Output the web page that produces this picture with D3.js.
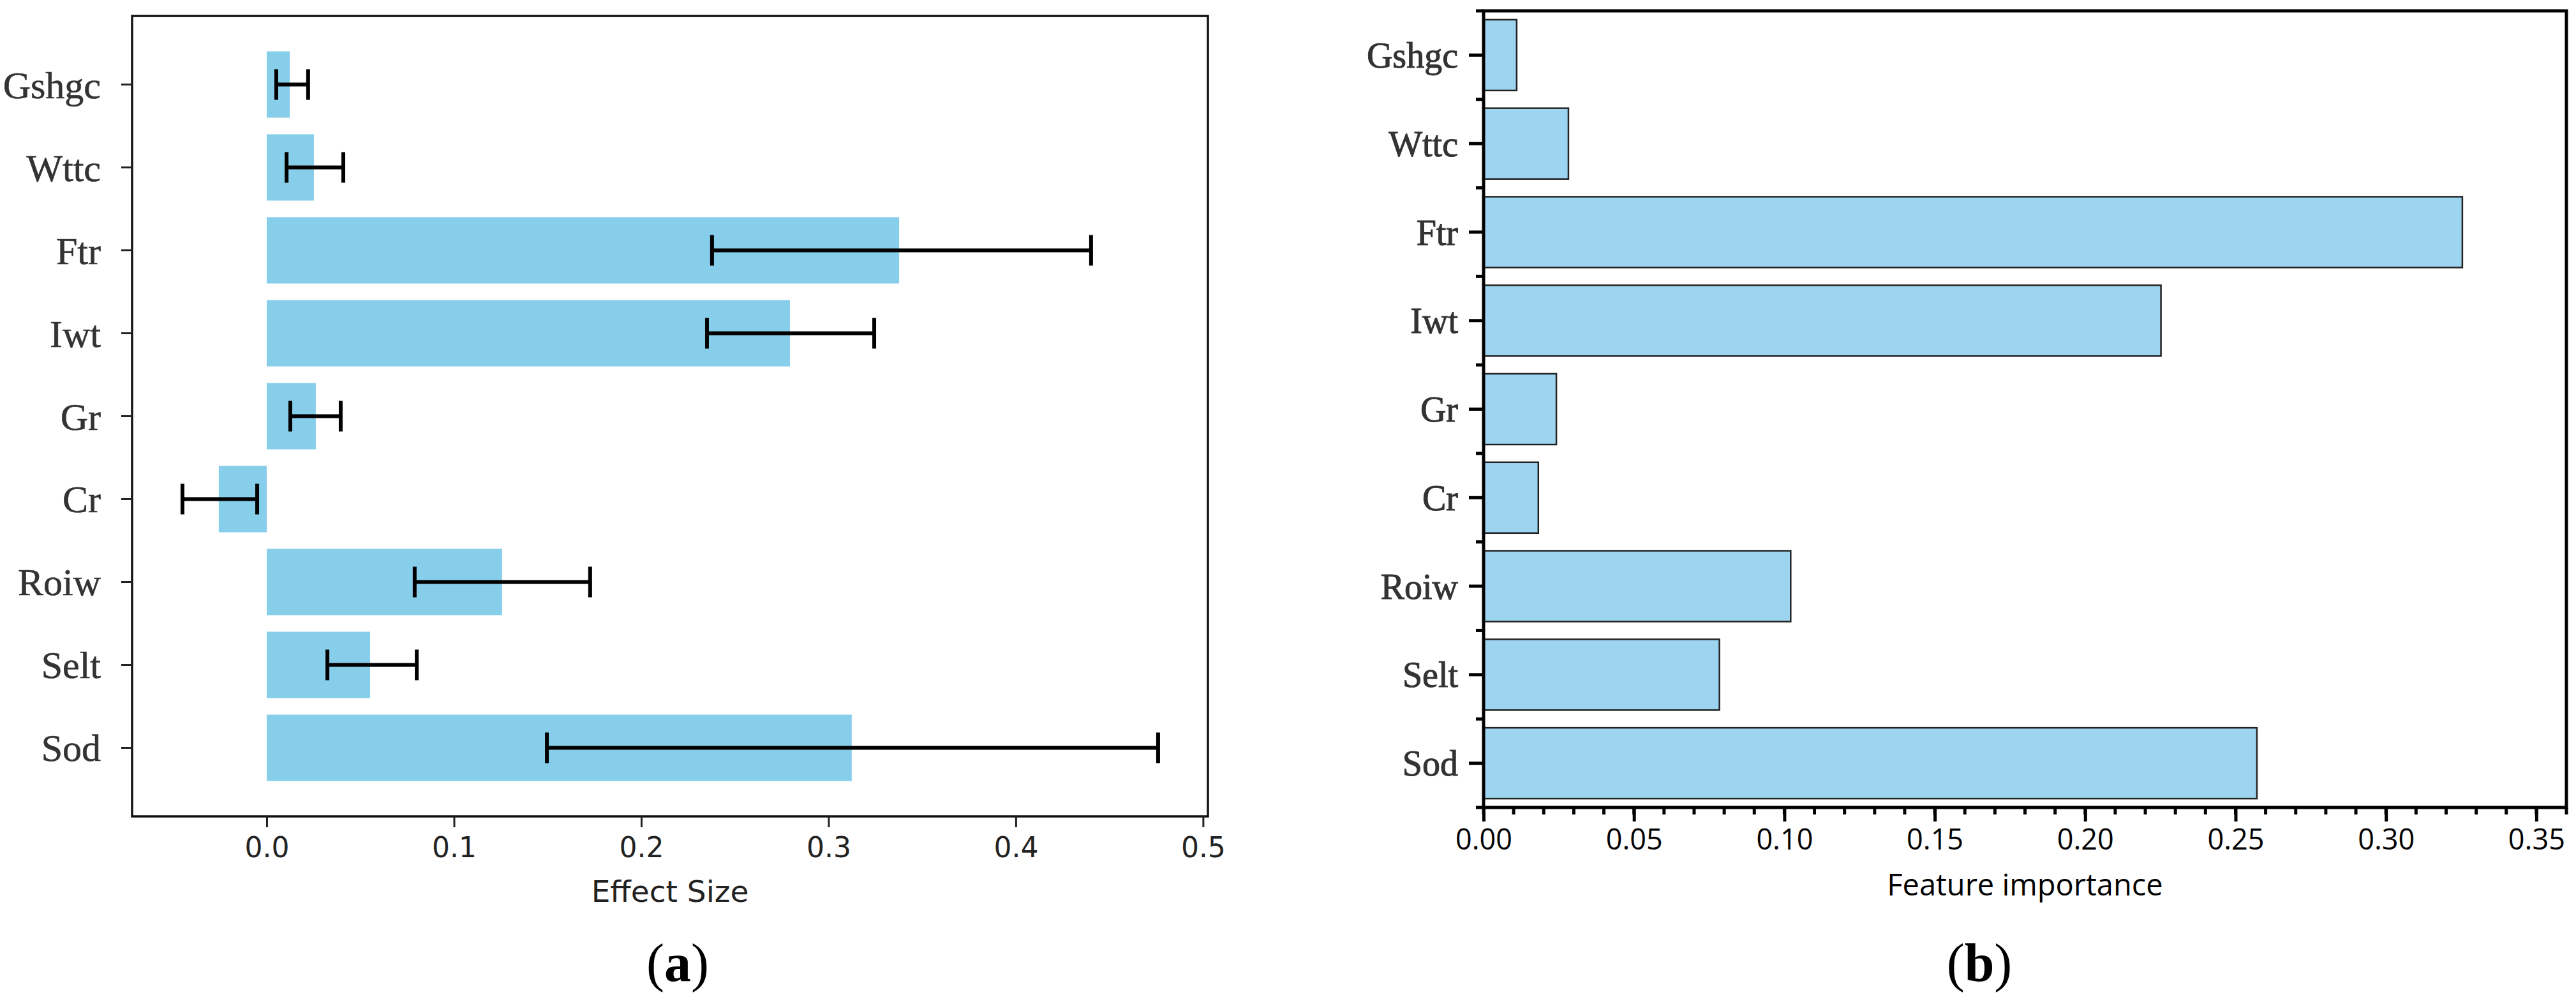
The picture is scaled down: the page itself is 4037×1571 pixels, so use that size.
<!DOCTYPE html>
<html>
<head>
<meta charset="utf-8">
<script src="https://cdn.jsdelivr.net/npm/d3@7"></script>
<style>
  body { margin: 0; background: #fff; }
</style>
</head>
<body>
<div id="chart"></div>
<script>
// values
var features = ['Gshgc', 'Wttc', 'Ftr', 'Iwt', 'Gr', 'Cr', 'Roiw', 'Selt', 'Sod'];
var effectSize = [0.0123, 0.0252, 0.3377, 0.2794, 0.0262, -0.0256, 0.1257, 0.0552, 0.3124];
var effectLow  = [0.0051, 0.0106, 0.2378, 0.2351, 0.0126, -0.0450, 0.0790, 0.0324, 0.1496];
var effectHigh = [0.0221, 0.0409, 0.4402, 0.3244, 0.0395, -0.0051, 0.1727, 0.0801, 0.4760];
var importance = [0.011, 0.0282, 0.3254, 0.2252, 0.0242, 0.0182, 0.1021, 0.0784, 0.2571];
var effectTicks = [0.0, 0.1, 0.2, 0.3, 0.4, 0.5];
var importanceTicks = [0.00, 0.05, 0.10, 0.15, 0.20, 0.25, 0.30, 0.35];

var W = 4037, H = 1571;
var svg = d3.select('#chart').append('svg')
  .attr('width', W).attr('height', H)
  .style('display', 'block');

// ---------- panel (a) ----------
var a = { left: 207, right: 1893, top: 25, bottom: 1280 };
var xa = d3.scaleLinear().domain([-0.0719, 0.5026]).range([a.left, a.right]);
var ya = d3.scaleBand().domain(features).range([a.top, a.bottom])
  .paddingInner(0.2).paddingOuter(0.427);

var ga = svg.append('g');

ga.selectAll('rect.bar')
  .data(features)
  .enter().append('rect')
  .attr('class', 'bar')
  .attr('x', function(d, i) { return Math.min(xa(0), xa(effectSize[i])); })
  .attr('width', function(d, i) { return Math.abs(xa(effectSize[i]) - xa(0)); })
  .attr('y', function(d) { return ya(d); })
  .attr('height', ya.bandwidth())
  .attr('fill', '#87ceeb');

var err = ga.selectAll('g.err')
  .data(features)
  .enter().append('g')
  .attr('class', 'err')
  .attr('stroke', '#000')
  .attr('stroke-width', 6);
err.append('line')
  .attr('x1', function(d, i) { return xa(effectLow[i]); })
  .attr('x2', function(d, i) { return xa(effectHigh[i]); })
  .attr('y1', function(d) { return ya(d) + ya.bandwidth() / 2; })
  .attr('y2', function(d) { return ya(d) + ya.bandwidth() / 2; });
err.append('line')
  .attr('x1', function(d, i) { return xa(effectLow[i]); })
  .attr('x2', function(d, i) { return xa(effectLow[i]); })
  .attr('y1', function(d) { return ya(d) + ya.bandwidth() / 2 - 24; })
  .attr('y2', function(d) { return ya(d) + ya.bandwidth() / 2 + 24; });
err.append('line')
  .attr('x1', function(d, i) { return xa(effectHigh[i]); })
  .attr('x2', function(d, i) { return xa(effectHigh[i]); })
  .attr('y1', function(d) { return ya(d) + ya.bandwidth() / 2 - 24; })
  .attr('y2', function(d) { return ya(d) + ya.bandwidth() / 2 + 24; });

ga.append('rect')
  .attr('x', a.left).attr('y', a.top)
  .attr('width', a.right - a.left).attr('height', a.bottom - a.top)
  .attr('fill', 'none').attr('stroke', '#111').attr('stroke-width', 3.5);

var axA = ga.append('g')
  .attr('transform', 'translate(0,' + a.bottom + ')')
  .call(d3.axisBottom(xa).tickValues(effectTicks).tickFormat(d3.format('.1f'))
    .tickSize(17).tickPadding(16));
axA.select('.domain').remove();
axA.selectAll('line').attr('stroke', '#222').attr('stroke-width', 3);
axA.selectAll('text')
  .attr('font-family', 'DejaVu Sans').attr('font-size', 44).attr('fill', '#222');

var ayA = ga.append('g')
  .attr('transform', 'translate(' + a.left + ',0)')
  .call(d3.axisLeft(ya).tickSize(17).tickPadding(32));
ayA.select('.domain').remove();
ayA.selectAll('line').attr('stroke', '#222').attr('stroke-width', 3);
ayA.selectAll('text')
  .attr('font-family', 'Liberation Serif').attr('font-size', 60).attr('fill', '#333')
  .attr('stroke', '#333').attr('stroke-width', 0.6)
  .attr('dy', '0.35em');

ga.append('text')
  .attr('x', (a.left + a.right) / 2).attr('y', 1414)
  .attr('text-anchor', 'middle')
  .attr('font-family', 'DejaVu Sans').attr('font-size', 47).attr('fill', '#222')
  .text('Effect Size');

ga.append('text')
  .attr('x', 1062).attr('y', 1538)
  .attr('text-anchor', 'middle')
  .attr('font-family', 'Liberation Serif').attr('font-size', 84).attr('fill', '#000')
  .html('(<tspan font-weight="bold">a</tspan>)');

// ---------- panel (b) ----------
var b = { left: 2325, right: 4022, top: 17, bottom: 1266 };
var xb = d3.scaleLinear().domain([0, 0.36]).range([b.left, b.right]);
var yb = d3.scaleBand().domain(features).range([b.top, b.bottom])
  .paddingInner(0.2).paddingOuter(0.1);

var gb = svg.append('g');

gb.selectAll('rect.bar')
  .data(features)
  .enter().append('rect')
  .attr('class', 'bar')
  .attr('x', xb(0))
  .attr('width', function(d, i) { return xb(importance[i]) - xb(0); })
  .attr('y', function(d) { return yb(d); })
  .attr('height', yb.bandwidth())
  .attr('fill', '#9dd4ef')
  .attr('stroke', '#222').attr('stroke-width', 2.5);

// minor y ticks on the category boundaries
var gapB = (yb.step() - yb.bandwidth()) / 2;
var bounds = features.map(function(d) { return yb(d) - gapB; });
bounds.push(yb(features[features.length - 1]) + yb.bandwidth() + gapB);
gb.selectAll('line.ymin')
  .data(bounds)
  .enter().append('line')
  .attr('class', 'ymin')
  .attr('x1', b.left - 12).attr('x2', b.left)
  .attr('y1', function(d) { return d; }).attr('y2', function(d) { return d; })
  .attr('stroke', '#000').attr('stroke-width', 5);

// minor x ticks every 0.01
var minorX = d3.range(0, 0.3601, 0.01);
gb.selectAll('line.xmin')
  .data(minorX)
  .enter().append('line')
  .attr('class', 'xmin')
  .attr('x1', function(d) { return xb(d); }).attr('x2', function(d) { return xb(d); })
  .attr('y1', b.bottom).attr('y2', b.bottom + 11)
  .attr('stroke', '#000').attr('stroke-width', 5);

var axB = gb.append('g')
  .attr('transform', 'translate(0,' + b.bottom + ')')
  .call(d3.axisBottom(xb).tickValues(importanceTicks).tickFormat(d3.format('.2f'))
    .tickSize(22).tickPadding(12));
axB.select('.domain').remove();
axB.selectAll('line').attr('stroke', '#000').attr('stroke-width', 5);
axB.selectAll('text')
  .attr('font-family', 'Open Sans').attr('font-size', 45).attr('fill', '#000');

var ayB = gb.append('g')
  .attr('transform', 'translate(' + b.left + ',0)')
  .call(d3.axisLeft(yb).tickSize(23).tickPadding(17));
ayB.select('.domain').remove();
ayB.selectAll('line').attr('stroke', '#000').attr('stroke-width', 5);
ayB.selectAll('text')
  .attr('font-family', 'Liberation Serif').attr('font-size', 56).attr('fill', '#333')
  .attr('stroke', '#333').attr('stroke-width', 1)
  .attr('dy', '0.35em');

gb.append('rect')
  .attr('x', b.left).attr('y', b.top)
  .attr('width', b.right - b.left).attr('height', b.bottom - b.top)
  .attr('fill', 'none').attr('stroke', '#000').attr('stroke-width', 5);

gb.append('text')
  .attr('x', (b.left + b.right) / 2).attr('y', 1404)
  .attr('text-anchor', 'middle')
  .attr('font-family', 'Open Sans').attr('font-size', 47).attr('fill', '#000')
  .text('Feature importance');

gb.append('text')
  .attr('x', 3102).attr('y', 1538)
  .attr('text-anchor', 'middle')
  .attr('font-family', 'Liberation Serif').attr('font-size', 84).attr('fill', '#000')
  .html('(<tspan font-weight="bold">b</tspan>)');
</script>
</body>
</html>
